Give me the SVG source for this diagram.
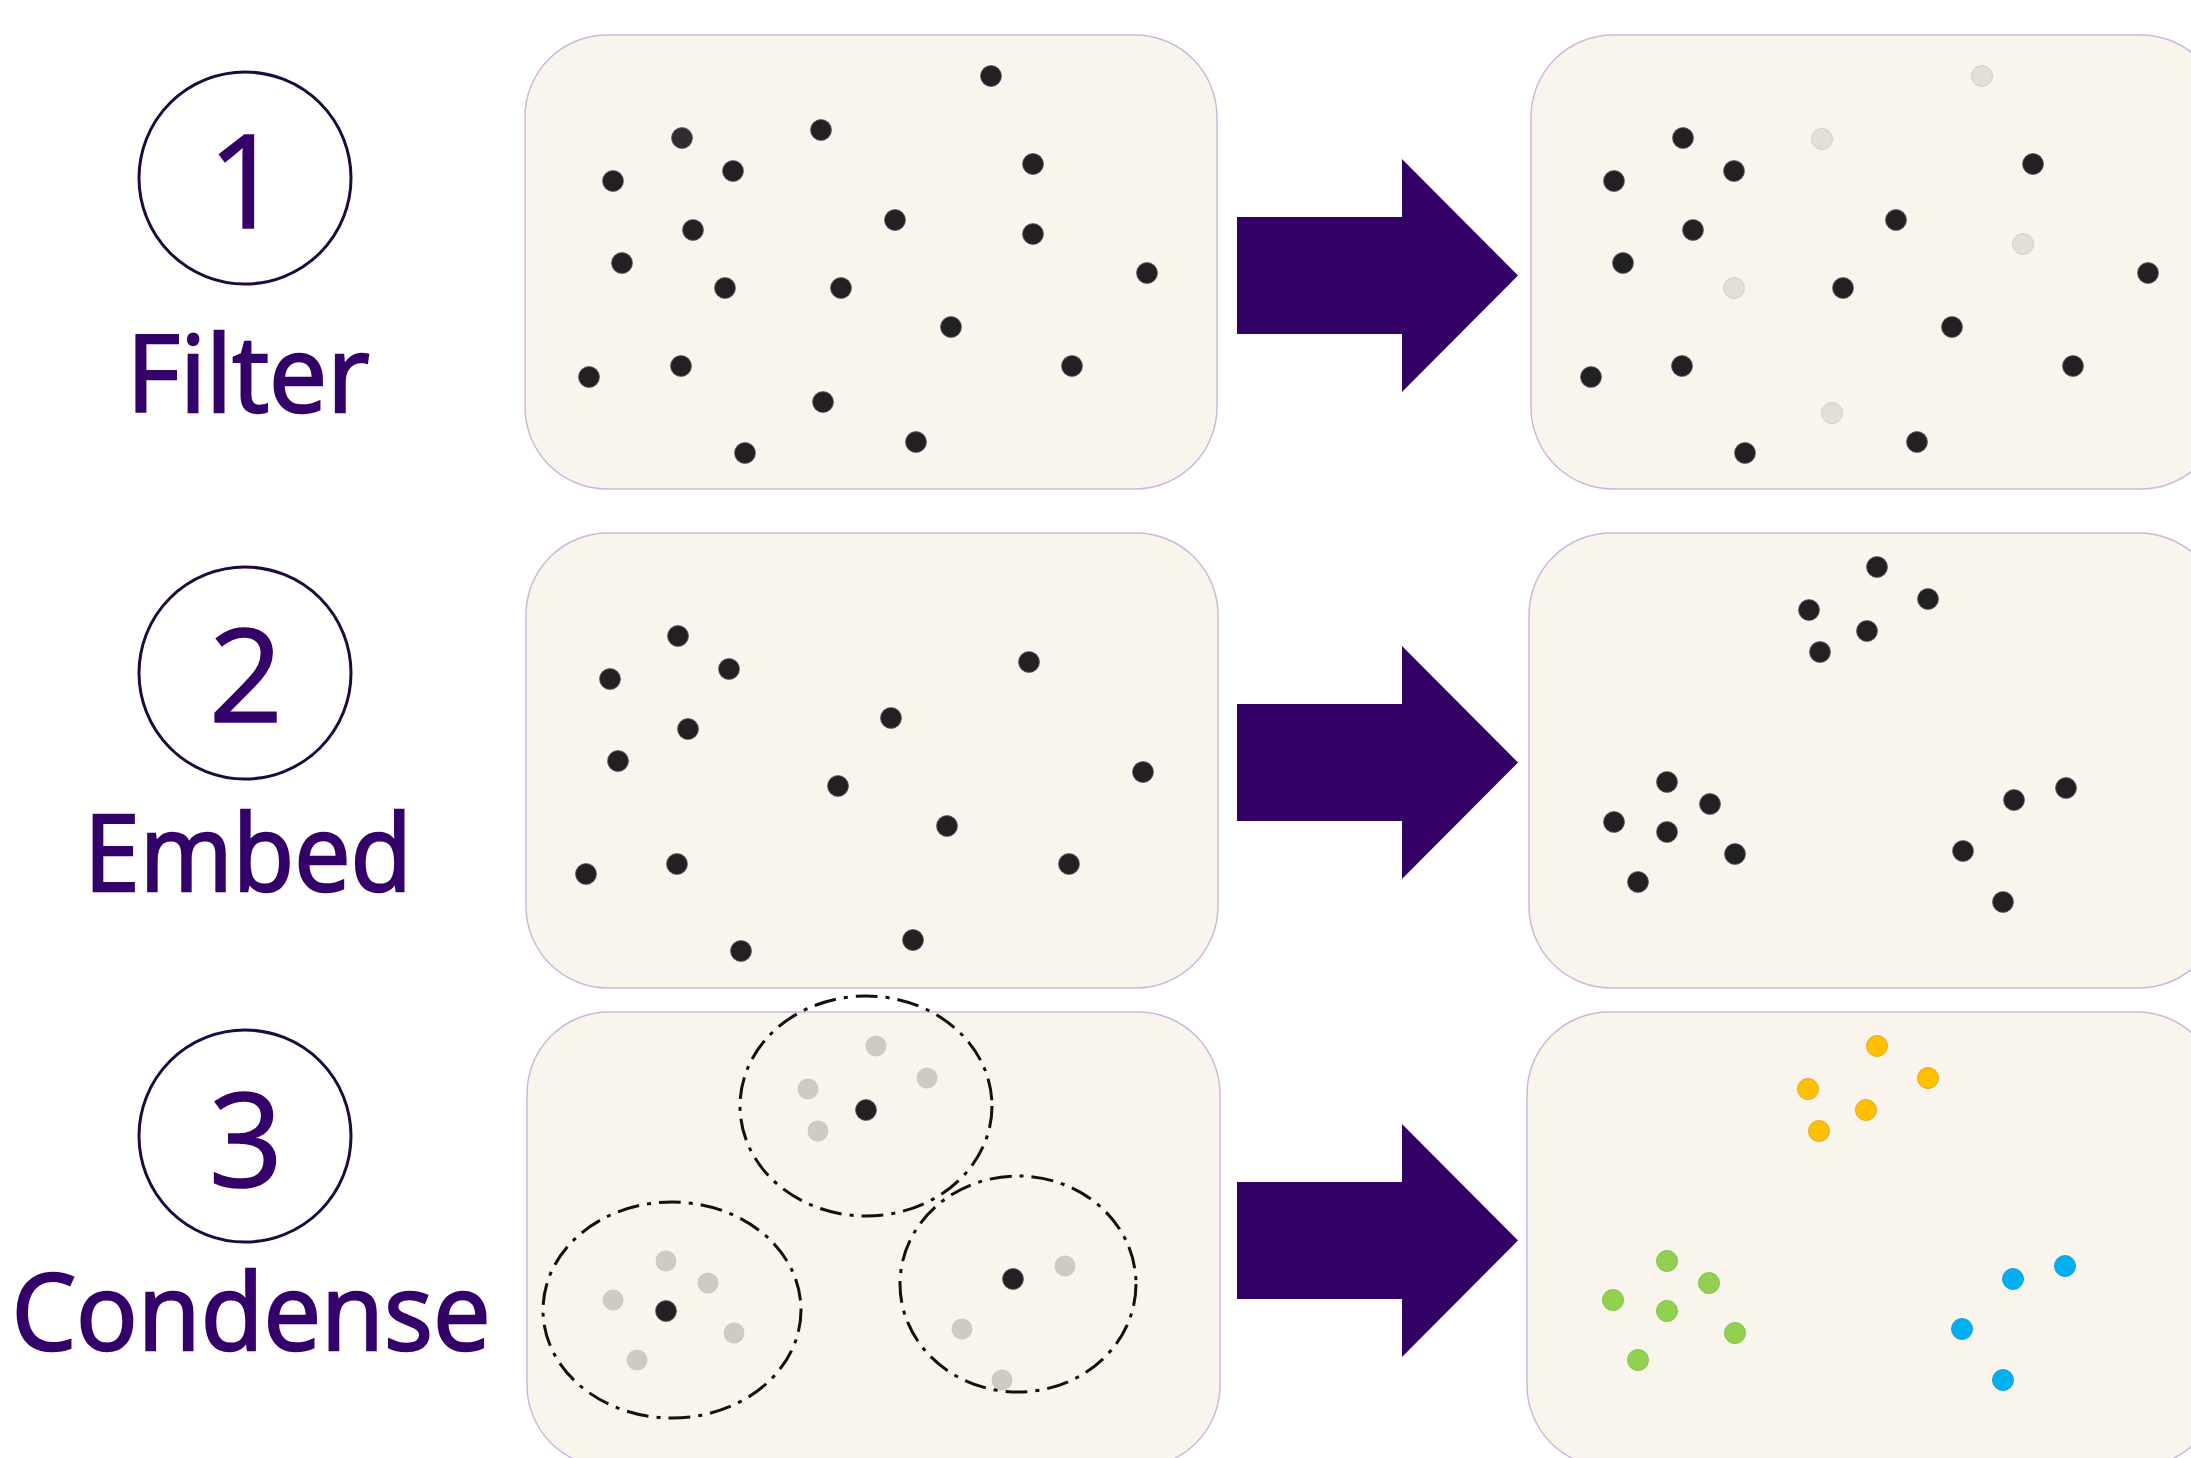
<svg xmlns="http://www.w3.org/2000/svg" width="2191" height="1458" viewBox="0 0 2191 1458">
<style>
.panel{fill:#faf5ec;stroke:#cdb8dc;stroke-width:1.5}
.step{fill:#ffffff;stroke:#1f0a3d;stroke-width:3}
.num{font-family:"Open Sans","Noto Sans",sans-serif;font-size:130px;fill:#34006a;stroke:#34006a;stroke-width:1.5;text-anchor:middle}
.lbl{font-family:"Open Sans","Noto Sans",sans-serif;font-size:106px;fill:#34006a;stroke:#34006a;stroke-width:2.5;text-anchor:middle}
.arrow{fill:#330066}
.d{fill:#232022;stroke:#6a5a7a;stroke-width:0.8}
.g{fill:#cfcbc4}
.f{fill:#e2dfd9;stroke:#d3cfc8;stroke-width:1}
.o{fill:#ffc000;stroke:#e8a632;stroke-width:1}
.gr{fill:#92d050;stroke:#7fc34a;stroke-width:1}
.b{fill:#00b0f0;stroke:#1aa2dc;stroke-width:1}
.ring{fill:none;stroke:#111111;stroke-width:3;stroke-dasharray:22 8 4 8}
</style>
<rect width="2191" height="1458" fill="#ffffff"/>

<g id="step1">
<circle class="step" cx="245" cy="178" r="106"/>
<text class="num" x="245" y="228">1</text>
<text class="lbl" x="248" y="412" textLength="243" lengthAdjust="spacingAndGlyphs">Filter</text>
</g>
<g id="step2">
<circle class="step" cx="245" cy="673" r="106"/>
<text class="num" x="246" y="722">2</text>
<text class="lbl" x="248" y="891" textLength="328" lengthAdjust="spacingAndGlyphs">Embed</text>
</g>
<g id="step3">
<circle class="step" cx="245" cy="1136" r="106"/>
<text class="num" x="246" y="1187">3</text>
<text class="lbl" x="251" y="1350" textLength="479" lengthAdjust="spacingAndGlyphs">Condense</text>
</g>

<g id="panel1-before">
<rect class="panel" x="525" y="35" width="692" height="454" rx="82" ry="82"/>
<circle class="d" cx="991" cy="76" r="10.5"/>
<circle class="d" cx="682" cy="138" r="10.5" style="fill:#2f2d2f"/>
<circle class="d" cx="821" cy="130" r="10.5"/>
<circle class="d" cx="613" cy="181" r="10.5"/>
<circle class="d" cx="733" cy="171" r="10.5"/>
<circle class="d" cx="1033" cy="164" r="10.5"/>
<circle class="d" cx="693" cy="230" r="10.5"/>
<circle class="d" cx="895" cy="220" r="10.5"/>
<circle class="d" cx="1033" cy="234" r="10.5"/>
<circle class="d" cx="622" cy="263" r="10.5"/>
<circle class="d" cx="725" cy="288" r="10.5"/>
<circle class="d" cx="841" cy="288" r="10.5"/>
<circle class="d" cx="1147" cy="273" r="10.5"/>
<circle class="d" cx="951" cy="327" r="10.5"/>
<circle class="d" cx="589" cy="377" r="10.5"/>
<circle class="d" cx="681" cy="366" r="10.5"/>
<circle class="d" cx="1072" cy="366" r="10.5"/>
<circle class="d" cx="823" cy="402" r="10.5"/>
<circle class="d" cx="745" cy="453" r="10.5"/>
<circle class="d" cx="916" cy="442" r="10.5"/>
</g>

<g id="panel1-after">
<rect class="panel" x="1531" y="35" width="692" height="454" rx="82" ry="82"/>
<circle class="f" cx="1982" cy="76" r="10.5"/>
<circle class="d" cx="1683" cy="138" r="10.5"/>
<circle class="f" cx="1822" cy="139" r="10.5"/>
<circle class="d" cx="1614" cy="181" r="10.5"/>
<circle class="d" cx="1734" cy="171" r="10.5"/>
<circle class="d" cx="2033" cy="164" r="10.5"/>
<circle class="d" cx="1693" cy="230" r="10.5"/>
<circle class="d" cx="1896" cy="220" r="10.5"/>
<circle class="f" cx="2023" cy="244" r="10.5"/>
<circle class="d" cx="1623" cy="263" r="10.5"/>
<circle class="f" cx="1734" cy="288" r="10.5"/>
<circle class="d" cx="1843" cy="288" r="10.5"/>
<circle class="d" cx="2148" cy="273" r="10.5"/>
<circle class="d" cx="1952" cy="327" r="10.5"/>
<circle class="d" cx="1591" cy="377" r="10.5"/>
<circle class="d" cx="1682" cy="366" r="10.5"/>
<circle class="d" cx="2073" cy="366" r="10.5"/>
<circle class="f" cx="1832" cy="413" r="10.5"/>
<circle class="d" cx="1745" cy="453" r="10.5"/>
<circle class="d" cx="1917" cy="442" r="10.5"/>
</g>

<g id="panel2-before">
<rect class="panel" x="526" y="533" width="692" height="455" rx="82" ry="82"/>
<circle class="d" cx="678" cy="636" r="10.5"/>
<circle class="d" cx="610" cy="679" r="10.5"/>
<circle class="d" cx="729" cy="669" r="10.5"/>
<circle class="d" cx="1029" cy="662" r="10.5"/>
<circle class="d" cx="688" cy="729" r="10.5"/>
<circle class="d" cx="891" cy="718" r="10.5"/>
<circle class="d" cx="618" cy="761" r="10.5"/>
<circle class="d" cx="838" cy="786" r="10.5"/>
<circle class="d" cx="1143" cy="772" r="10.5"/>
<circle class="d" cx="947" cy="826" r="10.5"/>
<circle class="d" cx="586" cy="874" r="10.5"/>
<circle class="d" cx="677" cy="864" r="10.5"/>
<circle class="d" cx="1069" cy="864" r="10.5"/>
<circle class="d" cx="741" cy="951" r="10.5"/>
<circle class="d" cx="913" cy="940" r="10.5"/>
</g>

<g id="panel2-after">
<rect class="panel" x="1529" y="533" width="692" height="455" rx="82" ry="82"/>
<circle class="d" cx="1877" cy="567" r="10.5"/>
<circle class="d" cx="1809" cy="610" r="10.5"/>
<circle class="d" cx="1928" cy="599" r="10.5"/>
<circle class="d" cx="1867" cy="631" r="10.5"/>
<circle class="d" cx="1820" cy="652" r="10.5"/>
<circle class="d" cx="1667" cy="782" r="10.5"/>
<circle class="d" cx="1710" cy="804" r="10.5"/>
<circle class="d" cx="1614" cy="822" r="10.5"/>
<circle class="d" cx="1667" cy="832" r="10.5"/>
<circle class="d" cx="1735" cy="854" r="10.5"/>
<circle class="d" cx="1638" cy="882" r="10.5"/>
<circle class="d" cx="2014" cy="800" r="10.5"/>
<circle class="d" cx="2066" cy="788" r="10.5"/>
<circle class="d" cx="1963" cy="851" r="10.5"/>
<circle class="d" cx="2003" cy="902" r="10.5"/>
</g>

<g id="panel3-before">
<rect class="panel" x="527" y="1012" width="693" height="455" rx="82" ry="82"/>
<circle class="g" cx="876" cy="1046" r="10.5"/>
<circle class="g" cx="808" cy="1089" r="10.5"/>
<circle class="g" cx="927" cy="1078" r="10.5"/>
<circle class="g" cx="818" cy="1131" r="10.5"/>
<circle class="d" cx="866" cy="1110" r="10.5"/>
<circle class="g" cx="666" cy="1261" r="10.5"/>
<circle class="g" cx="708" cy="1283" r="10.5"/>
<circle class="g" cx="613" cy="1300" r="10.5"/>
<circle class="g" cx="734" cy="1333" r="10.5"/>
<circle class="g" cx="637" cy="1360" r="10.5"/>
<circle class="d" cx="666" cy="1311" r="10.5"/>
<circle class="d" cx="1013" cy="1279" r="10.5"/>
<circle class="g" cx="1065" cy="1266" r="10.5"/>
<circle class="g" cx="962" cy="1329" r="10.5"/>
<circle class="g" cx="1002" cy="1380" r="10.5"/>
<ellipse class="ring" cx="866" cy="1106" rx="126" ry="110"/>
<ellipse class="ring" cx="672" cy="1310" rx="129" ry="108"/>
<ellipse class="ring" cx="1018" cy="1284" rx="118" ry="108"/>
</g>

<g id="panel3-after">
<rect class="panel" x="1527" y="1012" width="692" height="455" rx="82" ry="82"/>
<circle class="o" cx="1877" cy="1046" r="10.5"/>
<circle class="o" cx="1808" cy="1089" r="10.5"/>
<circle class="o" cx="1928" cy="1078" r="10.5"/>
<circle class="o" cx="1866" cy="1110" r="10.5"/>
<circle class="o" cx="1819" cy="1131" r="10.5"/>
<circle class="gr" cx="1667" cy="1261" r="10.5"/>
<circle class="gr" cx="1709" cy="1283" r="10.5"/>
<circle class="gr" cx="1613" cy="1300" r="10.5"/>
<circle class="gr" cx="1667" cy="1311" r="10.5"/>
<circle class="gr" cx="1735" cy="1333" r="10.5"/>
<circle class="gr" cx="1638" cy="1360" r="10.5"/>
<circle class="b" cx="2013" cy="1279" r="10.5"/>
<circle class="b" cx="2065" cy="1266" r="10.5"/>
<circle class="b" cx="1962" cy="1329" r="10.5"/>
<circle class="b" cx="2003" cy="1380" r="10.5"/>
</g>

<g id="connectors">
<polygon class="arrow" points="1237,217 1402,217 1402,159 1518,275.5 1402,392 1402,334 1237,334"/>
<polygon class="arrow" points="1237,704 1402,704 1402,646 1518,762.5 1402,879 1402,821 1237,821"/>
<polygon class="arrow" points="1237,1182 1402,1182 1402,1124 1518,1240.5 1402,1357 1402,1299 1237,1299"/>
</g>
</svg>
